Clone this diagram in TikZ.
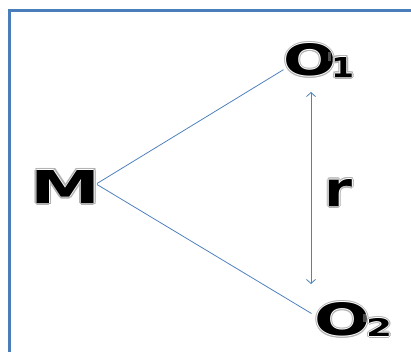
\documentclass[tikz,border=0pt]{standalone}
\usepackage{fontspec}
\setmainfont{DejaVu Sans}
\usepackage{graphicx}
\usetikzlibrary{arrows.meta,calc}
\definecolor{framecol}{RGB}{74,126,187}
\definecolor{conncol}{RGB}{79,129,189}
\newcommand\halo[1]{\begingroup
 \setbox0\hbox{{\color{black}#1}}\setbox2\hbox{{\color{black!30}#1}}\setbox4\hbox{{\color{white}#1}}%
 \def\hh##1##2{\rlap{\kern##1\raisebox{##2}{\copy2}}}%
 \def\hw##1##2{\rlap{\kern##1\raisebox{##2}{\copy4}}}%
 \hh{2pt}{0pt}\hh{-2pt}{0pt}\hh{0pt}{2pt}\hh{0pt}{-2pt}%
 \hh{1.4pt}{1.4pt}\hh{-1.4pt}{1.4pt}\hh{1.4pt}{-1.4pt}\hh{-1.4pt}{-1.4pt}%
 \hw{0.9pt}{0pt}\hw{-0.9pt}{0pt}\hw{0pt}{0.9pt}\hw{0pt}{-0.9pt}%
 \box0\endgroup}
\newcommand\gl[3]{\resizebox{#1}{#2}{\bfseries #3}}
\begin{document}
\begin{tikzpicture}[x=1pt,y=-1pt,
  txt/.style={inner sep=0pt,outer sep=0pt,anchor=center},
  conn/.style={draw=conncol,line width=0.8pt},
  gloss/.style={fill=white,fill opacity=0.3,draw=none},
  dbl/.style={conn,{Straight Barb[length=4pt,width=9pt]}-{Straight Barb[length=4pt,width=9pt]}}]
\useasboundingbox (0,0) rectangle (411,351);
\begin{scope}
\clip (0,0) rectangle (411,351);
\draw[framecol,line width=2.2pt] (9.5,10.5) rectangle (430,370);
\end{scope}
\node[txt] (M) at (66,186.5) {\halo{\gl{70pt}{33pt}{M}}};
\node[txt] (O1) at (310,60) {\halo{\gl{53pt}{32pt}{O}}};
\node[txt] (s1) at (342.5,67) {\halo{\gl{23pt}{20pt}{1}}};
\node[txt] (O2) at (342.5,319.5) {\halo{\gl{56pt}{33pt}{O}}};
\node[txt] (s2) at (379,327.5) {\halo{\gl{26pt}{18pt}{2}}};
\node[txt] (r) at (338.5,192.5) {\halo{\gl{28pt}{27pt}{r}}};
\foreach \n in {M,O1,s1,O2,s2,r}
  \path[gloss] ($(\n.north west)+(-3,-3)$) rectangle ($(\n.west)!0.5!(\n.north west)+(0,0)$ -| \n.east);
\draw[conn] ($(M.east)+(-4,-3)$) -- (O1.200);
\draw[conn] ($(M.east)+(-4,-2)$) -- ($(O2.west)+(-3,-6)$);
\coordinate (rt) at (311,92);
\coordinate (rb) at (311,284);
\draw[dbl] (rt) -- (rb);
\end{tikzpicture}
\end{document}
